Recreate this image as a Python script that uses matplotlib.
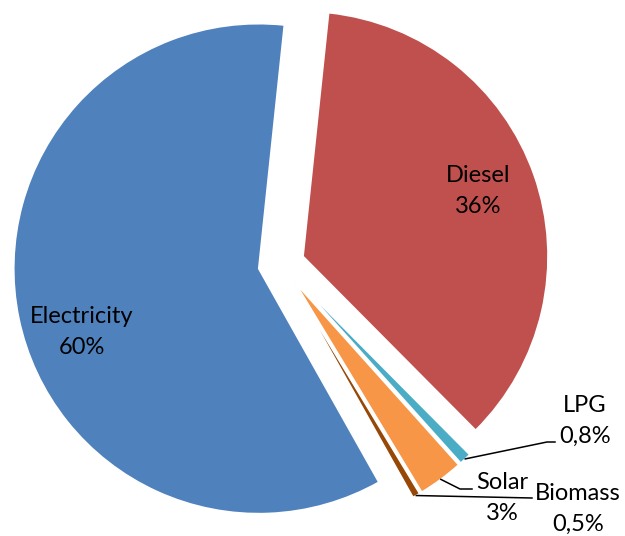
import numpy as np
import matplotlib
matplotlib.use("Agg")
from matplotlib import pyplot as plt

# share of energy use by source
sources = ["Diesel", "LPG", "Solar", "Biomass", "Electricity"]
shares = [36, 0.8, 3, 0.5, 60]
share_labels = ["36%", "0,8%", "3%", "0,5%", "60%"]
colors = ["#C0504D", "#4BACC6", "#F79646", "#974806", "#4F81BD"]

plt.rcParams["font.family"] = ["Lato", "DejaVu Sans"]

W, H = 625, 536
CX, CY, R = 281.3, 264.0, 245.0


def px(x, y):
    # pixel position in the picture -> data coords (pie radius = 1)
    return (x - CX) / R, (CY - y) / R


fig = plt.figure(figsize=(W / 100, H / 100), dpi=100)
ax = fig.add_axes([0, 0, 1, 1])

wedges, _ = ax.pie(shares, colors=colors, startangle=84, counterclock=False,
                   explode=[0.094] * len(shares),
                   wedgeprops=dict(edgecolor="white", linewidth=1.2))

ax.set_xlim(px(0, 0)[0], px(W, 0)[0])
ax.set_ylim(px(0, H)[1], px(0, 0)[1])
ax.set_aspect("auto")
ax.axis("off")

fs = 17
ls = 1.62
# big slices: labels inside
x, y = px(478, 191)
ax.text(x, y, "Diesel\n36%", ha="center", va="center", fontsize=fs, linespacing=ls)
x, y = px(82, 332)
ax.text(x, y, "Electricity\n60%", ha="center", va="center", fontsize=fs, linespacing=ls)


def edge_point(w):
    mid = np.deg2rad((w.theta1 + w.theta2) / 2)
    cx, cy = w.center
    return cx + w.r * np.cos(mid), cy + w.r * np.sin(mid)


# small slices: outside labels with leader lines
small = {
    "LPG": ([(547, 442), (555, 442)], (585, 421)),
    "Solar": ([(460, 489), (472, 489)], (502, 498)),
    "Biomass": ([(532, 498)], (578, 509)),
}
for w, name, lab in zip(wedges, sources, share_labels):
    if name not in small:
        continue
    pts, txt = small[name]
    x0, y0 = edge_point(w)
    xs = [x0] + [px(*p)[0] for p in pts]
    ys = [y0] + [px(*p)[1] for p in pts]
    ax.plot(xs, ys, color="black", lw=1.1)
    tx, ty = px(*txt)
    ax.text(tx, ty, name + "\n" + lab, ha="center", va="center", fontsize=fs,
            linespacing=ls)

fig.savefig("out.png", dpi=100)
